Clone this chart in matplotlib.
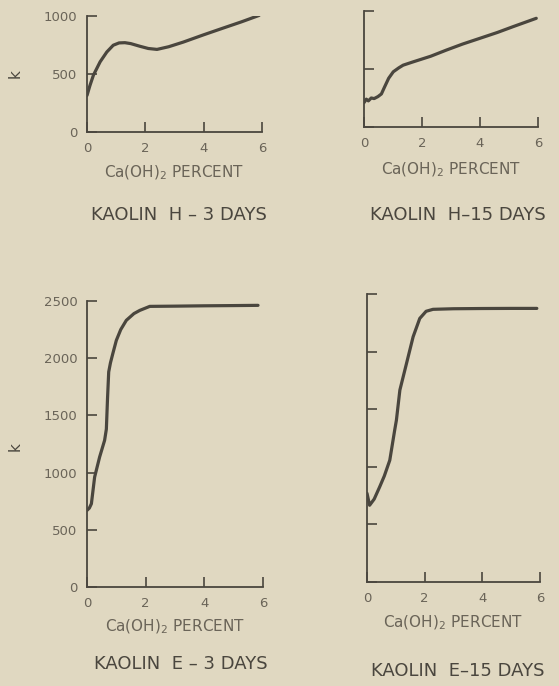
import matplotlib
matplotlib.use("Agg")
import matplotlib.pyplot as plt

# K versus lime content
h3_x = [0, 0.1, 0.22, 0.45, 0.68, 0.9, 1.1, 1.3, 1.5, 1.8, 2.1, 2.4, 2.8, 3.3, 4.0, 4.6, 5.3, 5.9]
h3_k = [315, 400, 490, 605, 690, 748, 768, 770, 762, 740, 720, 712, 735, 775, 838, 890, 950, 1005]

h15_x = [0, 0.08, 0.15, 0.25, 0.35, 0.48, 0.6, 0.7, 0.85, 1.01, 1.2, 1.35, 1.7, 2.3, 2.84, 3.4, 3.99, 4.6, 5.14, 5.94]
h15_k = [210, 240, 225, 250, 245, 262, 285, 340, 420, 476, 510, 533, 562, 610, 663, 715, 764, 815, 865, 937]

e3_x = [0, 0.08, 0.15, 0.26, 0.43, 0.6, 0.66, 0.7, 0.74, 0.8, 0.88, 1.0, 1.15, 1.34, 1.6, 1.8, 2.14, 3, 4, 5, 5.83]
e3_k = [670, 690, 728, 961, 1136, 1282, 1380, 1650, 1880, 1960, 2040, 2156, 2250, 2331, 2390, 2418, 2453, 2455, 2458, 2460, 2462]

e15_x = [0, 0.09, 0.25, 0.44, 0.6, 0.79, 0.96, 1.02, 1.14, 1.37, 1.6, 1.83, 2.05, 2.29, 3, 4, 5, 5.89]
e15_k = [770, 666, 720, 826, 920, 1057, 1318, 1405, 1666, 1897, 2129, 2288, 2350, 2367, 2372, 2374, 2375, 2375]

x_ticks = [0, 2, 4, 6]
h_ticks = [0, 500, 1000]
e_ticks = [0, 500, 1000, 1500, 2000, 2500]

titles = ["KAOLIN  H \u2013 3 DAYS", "KAOLIN  H\u201315 DAYS", "KAOLIN  E \u2013 3 DAYS", "KAOLIN  E\u201315 DAYS"]

bg = "#e0d8c1"
ink = "#4a463e"
txt = "#6a6458"

fig = plt.figure(figsize=(5.59, 6.86), dpi=100, facecolor=bg)

# axes boxes in pixels: left, top, right, bottom
boxes = [(87, 16, 262, 132), (364, 11, 538, 127), (87, 301, 263, 587), (367, 294, 540, 582)]
series = [(h3_x, h3_k), (h15_x, h15_k), (e3_x, e3_k), (e15_x, e15_k)]
ytick_sets = [h_ticks, h_ticks, e_ticks, e_ticks]
show_ylabels = [True, False, True, False]
xlabel_y = [173, 170, 627, 623]
title_pos = [(179, 215), (458, 215), (181, 664), (458, 671)]

W, H = 559, 686
for i in range(4):
    l, t, r, b = boxes[i]
    ax = fig.add_axes([l / W, 1 - b / H, (r - l) / W, (b - t) / H])
    ax.set_facecolor(bg)
    x, k = series[i]
    ax.plot(x, k, color=ink, lw=2.3, solid_capstyle="round")
    ax.set_xlim(0, 6)
    ax.set_ylim(0, ytick_sets[i][-1])
    ax.set_xticks(x_ticks)
    ax.set_yticks(ytick_sets[i])
    for s in ["top", "right"]:
        ax.spines[s].set_visible(False)
    for s in ["left", "bottom"]:
        ax.spines[s].set_color(ink)
        ax.spines[s].set_linewidth(1.3)
    ax.tick_params(direction="in", length=7, width=1.2, color=ink,
                   labelsize=9.5, labelcolor=txt, pad=7)
    if not show_ylabels[i]:
        ax.set_yticklabels([])
    else:
        ax.set_ylabel("k", fontsize=11, color=ink, rotation=90)
        ax.yaxis.set_label_coords(-64 / (r - l), 0.5 if i == 0 else 0.49)
    cx = (l + r) / 2 / W
    fig.text(cx, 1 - xlabel_y[i] / H, "Ca(OH)$_2$ PERCENT", ha="center", va="center",
             fontsize=11, color=txt)
    tx, ty = title_pos[i]
    fig.text(tx / W, 1 - ty / H, titles[i], ha="center", va="center",
             fontsize=13, color=ink)

fig.savefig("out.png", dpi=100, facecolor=bg)
